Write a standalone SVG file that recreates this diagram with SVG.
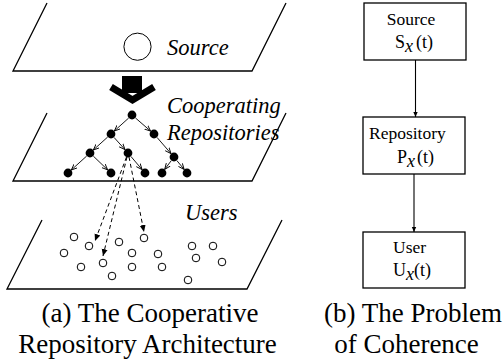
<svg xmlns="http://www.w3.org/2000/svg" width="503" height="360" viewBox="0 0 503 360">
  <style>
    .plane { fill: none; stroke: #000; stroke-width: 1.3; }
    .box { fill: #fff; stroke: #000; stroke-width: 1.3; }
    .node { fill: #000; }
    .user { fill: #fff; stroke: #000; stroke-width: 1; }
    .tree { stroke: #000; stroke-width: 0.9; fill: none; marker-end: url(#ah); }
    .dash { stroke: #000; stroke-width: 1; fill: none; stroke-dasharray: 4 3; marker-end: url(#ah2); }
    .conn { stroke: #000; stroke-width: 1.1; fill: none; marker-end: url(#ah3); }
  </style>
  <defs>
    <marker id="ah" markerUnits="userSpaceOnUse" markerWidth="7" markerHeight="6" refX="6" refY="3" orient="auto">
      <path d="M0,0.5 L6,3 L0,5.5" fill="none" stroke="#000" stroke-width="0.9"/>
    </marker>
    <marker id="ah2" markerUnits="userSpaceOnUse" markerWidth="8" markerHeight="8" refX="7" refY="4" orient="auto">
      <path d="M0,1 L7,4 L0,7 z" fill="#000"/>
    </marker>
    <marker id="ah3" markerUnits="userSpaceOnUse" markerWidth="6" markerHeight="6" refX="5" refY="3" orient="auto">
      <path d="M0,0.8 L5,3 L0,5.2 z" fill="#000"/>
    </marker>
  </defs>

  <!-- (a) architecture -->
  <g id="plane-source">
    <polyline class="plane" points="47,3 13,71 252,71 286,3"/>
    <circle cx="137.5" cy="46.7" r="13.6" fill="none" stroke="#000" stroke-width="1"/>
    <text x="167" y="55" font-family="Liberation Serif, serif" font-style="italic" font-size="22.5">Source</text>
  </g>

  <g id="big-arrow">
    <rect x="122" y="76" width="20" height="17" fill="#000"/>
    <polyline points="111,87 132.5,100 154,87" fill="none" stroke="#000" stroke-width="7" stroke-linejoin="miter"/>
  </g>

  <g id="plane-repositories">
    <polyline class="plane" points="47,113 13,181 252,181 286,113"/>
    <text x="167" y="113" font-family="Liberation Serif, serif" font-style="italic" font-size="22.5">Cooperating</text>
    <text x="167" y="140" font-family="Liberation Serif, serif" font-style="italic" font-size="22.5">Repositories</text>
  </g>

  <g id="tree-edges">
    <line class="tree" x1="128.7" y1="118" x2="114.3" y2="131"/>
    <line class="tree" x1="135.4" y1="117.9" x2="150.6" y2="131.1"/>
    <line class="tree" x1="107.7" y1="137" x2="93.3" y2="150"/>
    <line class="tree" x1="114" y1="137.4" x2="125" y2="149.6"/>
    <line class="tree" x1="157" y1="137.4" x2="171" y2="153.6"/>
    <line class="tree" x1="86.7" y1="156" x2="71.3" y2="170"/>
    <line class="tree" x1="93.3" y1="156.1" x2="107.7" y2="169.9"/>
    <line class="tree" x1="130.9" y1="156.4" x2="142.1" y2="169.6"/>
    <line class="tree" x1="171.3" y1="160.6" x2="164.7" y2="169.4"/>
    <line class="tree" x1="176.8" y1="160.5" x2="184.2" y2="169.5"/>
  </g>

  <g id="tree-nodes">
    <circle class="node" cx="132" cy="115" r="4.4"/>
    <circle class="node" cx="111" cy="134" r="4.4"/>
    <circle class="node" cx="154" cy="134" r="4.4"/>
    <circle class="node" cx="90" cy="153" r="4.4"/>
    <circle class="node" cx="128" cy="153" r="4.4"/>
    <circle class="node" cx="174" cy="157" r="4.4"/>
    <circle class="node" cx="68" cy="173" r="4.4"/>
    <circle class="node" cx="111" cy="173" r="4.4"/>
    <circle class="node" cx="145" cy="173" r="4.4"/>
    <circle class="node" cx="162" cy="173" r="4.4"/>
    <circle class="node" cx="187" cy="173" r="4.4"/>
  </g>

  <g id="dashed-edges">
    <line class="dash" x1="126.5" y1="157" x2="95" y2="241"/>
    <line class="dash" x1="127" y1="157" x2="103" y2="256"/>
    <line class="dash" x1="129" y1="157" x2="144" y2="232"/>
  </g>

  <g id="plane-users">
    <polyline class="plane" points="42,220 7,289 247,289 282,220"/>
    <text x="185" y="220" font-family="Liberation Serif, serif" font-style="italic" font-size="22.5">Users</text>
    <circle class="user" cx="74" cy="237" r="3.8"/>
    <circle class="user" cx="89" cy="246" r="3.8"/>
    <circle class="user" cx="119" cy="242" r="3.8"/>
    <circle class="user" cx="144" cy="238" r="3.8"/>
    <circle class="user" cx="192" cy="246" r="3.8"/>
    <circle class="user" cx="213" cy="246" r="3.8"/>
    <circle class="user" cx="64" cy="253" r="3.8"/>
    <circle class="user" cx="103" cy="263" r="3.8"/>
    <circle class="user" cx="132" cy="253" r="3.8"/>
    <circle class="user" cx="158" cy="254" r="3.8"/>
    <circle class="user" cx="196" cy="258" r="3.8"/>
    <circle class="user" cx="222" cy="262" r="3.8"/>
    <circle class="user" cx="81" cy="267" r="3.8"/>
    <circle class="user" cx="132" cy="267" r="3.8"/>
    <circle class="user" cx="162" cy="267" r="3.8"/>
    <circle class="user" cx="112" cy="276" r="3.8"/>
    <circle class="user" cx="188" cy="280" r="3.8"/>
  </g>

  <g id="caption-a">
    <text x="150" y="322" font-family="Liberation Serif, serif" font-size="27" text-anchor="middle">(a) The Cooperative</text>
    <text x="147.5" y="353" font-family="Liberation Serif, serif" font-size="27" text-anchor="middle">Repository Architecture</text>
  </g>

  <!-- (b) coherence -->
  <g id="connectors">
    <line class="conn" x1="415.5" y1="60" x2="415.5" y2="117"/>
    <line class="conn" x1="414" y1="174" x2="414" y2="232"/>
  </g>

  <g id="node-source">
    <rect class="box" x="364" y="3" width="102" height="57"/>
    <text x="411" y="25" font-family="Liberation Serif, serif" font-size="17.5" text-anchor="middle">Source</text>
    <text x="395" y="48" font-family="Liberation Serif, serif" font-size="18">S<tspan font-style="italic" dy="4">x</tspan><tspan dx="3" dy="-4">(t)</tspan></text>
  </g>

  <g id="node-repository">
    <rect class="box" x="363" y="117" width="102" height="57"/>
    <text x="369" y="139" font-family="Liberation Serif, serif" font-size="17.5">Repository</text>
    <text x="397" y="163" font-family="Liberation Serif, serif" font-size="18">P<tspan font-style="italic" dy="4">x</tspan><tspan dx="2" dy="-4">(t)</tspan></text>
  </g>

  <g id="node-user">
    <rect class="box" x="363" y="232" width="102" height="56"/>
    <text x="393" y="253" font-family="Liberation Serif, serif" font-size="17.5">User</text>
    <text x="393" y="276" font-family="Liberation Serif, serif" font-size="18">U<tspan font-style="italic" dy="4">x</tspan><tspan dy="-4">(t)</tspan></text>
  </g>

  <g id="caption-b">
    <text x="413" y="322" font-family="Liberation Serif, serif" font-size="27" text-anchor="middle">(b) The Problem</text>
    <text x="406.5" y="353" font-family="Liberation Serif, serif" font-size="27" text-anchor="middle">of Coherence</text>
  </g>
</svg>
